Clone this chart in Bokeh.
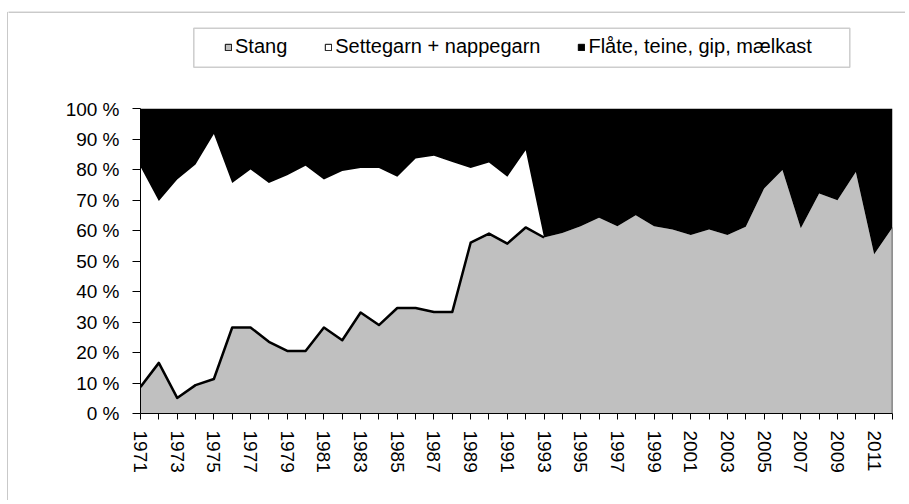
import math
from bokeh.plotting import figure
from bokeh.layouts import row, column
from bokeh.models import (ColumnDataSource, Range1d, FixedTicker, Legend, LegendItem,
                          BoxAnnotation)
from bokeh.embed import file_html
from bokeh.resources import INLINE

# ---- data (shares, percent) ----
years = list(range(1971, 2013))
stang = [8.7, 16.6, 5.1, 9.3, 11.3, 28.2, 28.2, 23.5, 20.5, 20.5,
         28.2, 24.0, 33.1, 29.0, 34.6, 34.6, 33.3, 33.3, 56.0, 59.0,
         55.7, 61.0, 57.7, 59.2, 61.4, 64.2, 61.4, 65.0, 61.4, 60.3,
         58.5, 60.3, 58.5, 61.2, 73.8, 79.8, 60.7, 72.1, 69.9, 79.2,
         52.2, 61.0]
settegarn = [72.2, 53.1, 71.6, 72.3, 80.3, 47.4, 51.8, 52.1, 57.6, 60.7,
             48.5, 55.5, 47.4, 51.5, 43.0, 49.0, 51.2, 49.2, 24.5, 23.3,
             21.9, 25.3, 0, 0, 0, 0, 0, 0, 0, 0,
             0, 0, 0, 0, 0, 0, 0, 0, 0, 0,
             0, 0]
flate = [19.1, 30.3, 23.3, 18.4, 8.4, 24.4, 20.0, 24.4, 21.9, 18.8,
         23.3, 20.5, 19.5, 19.5, 22.4, 16.4, 15.5, 17.5, 19.5, 17.7,
         22.4, 13.7, 42.3, 40.8, 38.6, 35.8, 38.6, 35.0, 38.6, 39.7,
         41.5, 39.7, 41.5, 38.8, 26.2, 20.2, 39.3, 27.9, 30.1, 20.8,
         47.8, 39.0]
series_names = ["Stang", "Settegarn + nappegarn", "Flåte, teine, gip, mælkast"]
series_colors = ["#c0c0c0", "#ffffff", "#000000"]
y_ticks = list(range(0, 101, 10))
last_settegarn_year = 1993

# 100 % stacking
totals = [a + b + c for a, b, c in zip(stang, settegarn, flate)]
s_pct = [a / t * 100 for a, t in zip(stang, totals)]
g_pct = [b / t * 100 for b, t in zip(settegarn, totals)]
f_pct = [c / t * 100 for c, t in zip(flate, totals)]

source = ColumnDataSource(dict(year=years, s=s_pct, g=g_pct, f=f_pct))

FONT = "Liberation Sans"
STRIP_W = 8          # left strip carrying the outer chart border
TOP_H = 98           # legend band height
TOTAL_W = 905
TOTAL_H = 500
MAIN_W = TOTAL_W - STRIP_W


def bare_figure(w, h):
    f = figure(width=w, height=h, output_backend="svg", toolbar_location=None,
               x_range=Range1d(0, w), y_range=Range1d(h, 0),
               x_axis_location=None, y_axis_location=None, min_border=0,
               frame_align=False)
    f.outline_line_color = None
    f.grid.visible = False
    f.border_fill_color = "white"
    f.background_fill_color = "white"
    return f


# ---- outer border, left strip ----
strip = bare_figure(STRIP_W, TOTAL_H)
strip.add_layout(BoxAnnotation(left=7.3, right=100, top=11.7, bottom=5000,
                               fill_alpha=0, line_color="black", line_width=1))

# ---- legend band ----
top = bare_figure(MAIN_W, TOP_H)
top.add_layout(BoxAnnotation(left=-50, right=5000, top=11.7, bottom=5000,
                             fill_alpha=0, line_color="black", line_width=1))
top.add_layout(BoxAnnotation(left=193.3 - STRIP_W, right=849.3 - STRIP_W,
                             top=27.7, bottom=66.7,
                             fill_color="white", fill_alpha=1,
                             line_color="#595959", line_width=1.5))
nan = float("nan")
proxies = []
for col in series_colors:
    r = top.quad(left=[nan], right=[nan], top=[nan], bottom=[nan],
                 fill_color=col, line_color="black", line_width=1)
    proxies.append(r)
legend = Legend(items=[LegendItem(label=n, renderers=[r]) for n, r in zip(series_names, proxies)],
                orientation="horizontal", location=(224 - STRIP_W, TOP_H - 58),
                glyph_width=8, glyph_height=8, label_standoff=3, spacing=37,
                padding=10, label_height=20, margin=0,
                label_text_font=FONT, label_text_font_size="20px",
                label_text_color="black",
                border_line_color=None, background_fill_alpha=0)
top.add_layout(legend, "center")

# ---- main chart ----
FRAME_LEFT = 140 - STRIP_W
FRAME_W = 752
FRAME_TOP = 108 - TOP_H
FRAME_H = 305
MAIN_H = TOTAL_H - TOP_H
p = figure(width=MAIN_W, height=MAIN_H, output_backend="svg", toolbar_location=None,
           x_range=Range1d(years[0], years[-1]), y_range=Range1d(0, 100),
           min_border_left=FRAME_LEFT, min_border_right=MAIN_W - FRAME_LEFT - FRAME_W,
           min_border_top=FRAME_TOP, min_border_bottom=MAIN_H - FRAME_TOP - FRAME_H,
           frame_align=False)
p.outline_line_color = None
p.grid.visible = False
p.background_fill_color = "white"
p.border_fill_color = "white"

p.varea_stack(stackers=["s", "g", "f"], x="year", color=series_colors, source=source)

# black border along Stang while the Settegarn series exists
n_line = years.index(last_settegarn_year) + 1
p.line(years[:n_line], s_pct[:n_line], line_color="black", line_width=2.5,
       line_join="round")
p.segment(x0=[years[-1]], y0=[0], x1=[years[-1]], y1=[s_pct[-1]],
          line_color="#333333", line_width=1.5)

xa = p.xaxis[0]
xa.ticker = FixedTicker(ticks=years)
xa.major_label_overrides = {y: (str(y) if (y - years[0]) % 2 == 0 else "") for y in years}
xa.major_label_orientation = -math.pi / 2
xa.major_tick_out = 6
xa.major_tick_in = 0
xa.minor_tick_line_color = None
xa.axis_line_color = "black"
xa.major_tick_line_color = "black"
xa.major_label_text_font = FONT
xa.major_label_text_font_size = "19px"
xa.major_label_text_color = "black"
xa.major_label_standoff = 11

ya = p.yaxis[0]
ya.ticker = FixedTicker(ticks=y_ticks)
ya.major_label_overrides = {t: f"{t} %" for t in y_ticks}
ya.major_tick_out = 8
ya.major_tick_in = 0
ya.minor_tick_line_color = None
ya.axis_line_color = "black"
ya.major_tick_line_color = "black"
ya.major_label_text_font = FONT
ya.major_label_text_font_size = "19px"
ya.major_label_text_color = "black"
ya.major_label_standoff = 13

layout = row(strip, column(top, p, spacing=0), spacing=0)

open("out.html", "w").write(file_html(layout, INLINE))
